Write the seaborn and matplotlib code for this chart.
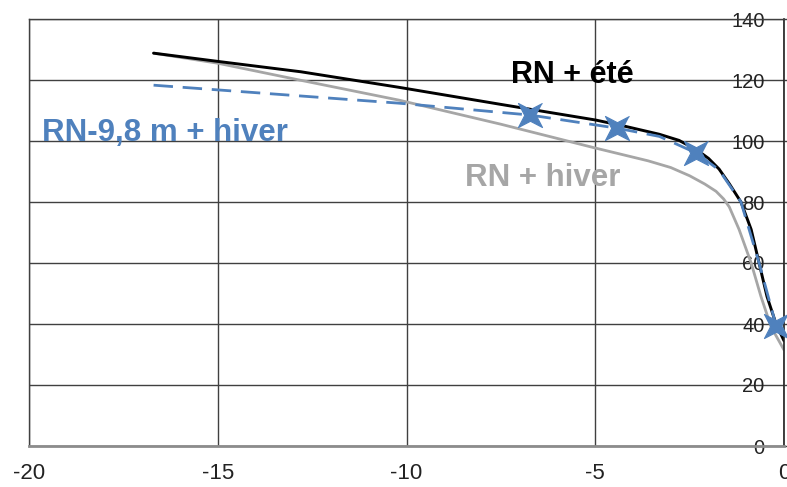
import matplotlib
matplotlib.use("Agg")
import numpy as np
import matplotlib.pyplot as plt
from matplotlib.path import Path
import seaborn as sns

# RN + été (black)
x_ete = [-16.7, -15.0, -12.8, -10.2, -7.5, -5.0, -4.2, -3.3, -2.78, -2.3, -2.0, -1.72, -1.45, -1.14, -0.87, -0.66, -0.45, -0.21, 0.0]
y_ete = [128.8, 126.1, 122.7, 117.6, 112.0, 106.9, 104.8, 102.2, 100.2, 97.0, 94.3, 90.8, 86.0, 80.0, 71.0, 60.0, 49.0, 40.0, 34.5]

# RN + hiver (gray)
x_hiver = [-16.7, -15.0, -12.8, -10.2, -7.5, -5.0, -4.2, -3.6, -3.0, -2.5, -2.1, -1.8, -1.6, -1.45, -1.19, -0.87, -0.61, -0.34, 0.0]
y_hiver = [128.8, 125.5, 119.9, 113.4, 105.5, 97.7, 95.3, 93.5, 91.3, 88.6, 85.9, 83.5, 81.0, 78.4, 71.0, 60.0, 49.0, 39.0, 31.5]

# RN-9,8 m + hiver (blue dashed)
x_rn98 = [-16.7, -10.2, -6.72, -4.42, -3.3, -2.33, -1.72, -1.14, -0.66, -0.21]
y_rn98 = [118.3, 112.4, 108.5, 104.2, 101.5, 96.1, 90.5, 80.0, 60.0, 39.5]
x_stars = [-6.72, -4.42, -2.33, -0.21]
y_stars = [108.5, 104.2, 96.1, 39.5]

x_ticks = [-20, -15, -10, -5, 0]
y_ticks = [0, 20, 40, 60, 80, 100, 120, 140]

sns.set_theme(style="white")
plt.rcParams['font.family'] = ['Liberation Sans', 'DejaVu Sans']
plt.rcParams['axes.unicode_minus'] = False

blue = '#4F81BD'
gray = '#A6A6A6'

# four-pointed star, tips on the diagonals
ang = np.arange(8) * np.pi / 4 + np.pi / 4
rad = np.where(np.arange(8) % 2 == 0, 1.0, 0.34)
star = Path(np.column_stack([rad * np.cos(ang), rad * np.sin(ang)]), closed=False)

fig = plt.figure(figsize=(7.87, 4.87), dpi=100)
ax = fig.add_axes([29 / 787, 41 / 487, 755 / 787, 427 / 487])

sns.lineplot(x=x_hiver, y=y_hiver, sort=False, color=gray, lw=2.0, ax=ax)
sns.lineplot(x=x_ete, y=y_ete, sort=False, color='black', lw=2.1, ax=ax)
sns.lineplot(x=x_rn98, y=y_rn98, sort=False, color=blue, lw=2.0,
             linestyle=(0, (7, 3.5)), ax=ax)
sns.scatterplot(x=x_stars, y=y_stars, marker=star, s=300, color=blue,
                edgecolor=blue, linewidth=0.8, ax=ax, zorder=5, clip_on=False)

ax.set_xlim(-20, 0)
ax.set_ylim(0, 140)
ax.set_xticks(x_ticks)
ax.set_yticks(y_ticks)

ax.set_axisbelow(True)
ax.grid(True, color='#404040', lw=1.0)

for side in ['left', 'top']:
    ax.spines[side].set_color('#404040')
    ax.spines[side].set_linewidth(1.0)
ax.spines['right'].set_color('#202020')
ax.spines['right'].set_linewidth(1.2)
ax.spines['bottom'].set_color('#8C8C8C')
ax.spines['bottom'].set_linewidth(2.0)

ax.tick_params(axis='x', direction='out', length=6, width=1, color='#404040',
               labelsize=16, pad=6, labelcolor='#222222')
ax.yaxis.set_ticks_position('right')
ax.tick_params(axis='y', direction='out', length=3, width=1, color='#404040',
               labelsize=14.5, labelright=True, labelleft=False, pad=-17,
               labelcolor='#222222')
for t in ax.yaxis.get_major_ticks():
    t.label2.set_horizontalalignment('right')

ax.text(-5.6, 121.5, 'RN + été', color='black', fontsize=22, fontweight='bold',
        ha='center', va='center')
ax.text(-19.65, 102.7, 'RN-9,8 m + hiver', color=blue, fontsize=22.5,
        fontweight='bold', ha='left', va='center')
ax.text(-8.45, 88.0, 'RN + hiver', color=gray, fontsize=22.5, fontweight='bold',
        ha='left', va='center')

ax.set_xlabel('')
ax.set_ylabel('')
fig.savefig('out.png', dpi=100)
